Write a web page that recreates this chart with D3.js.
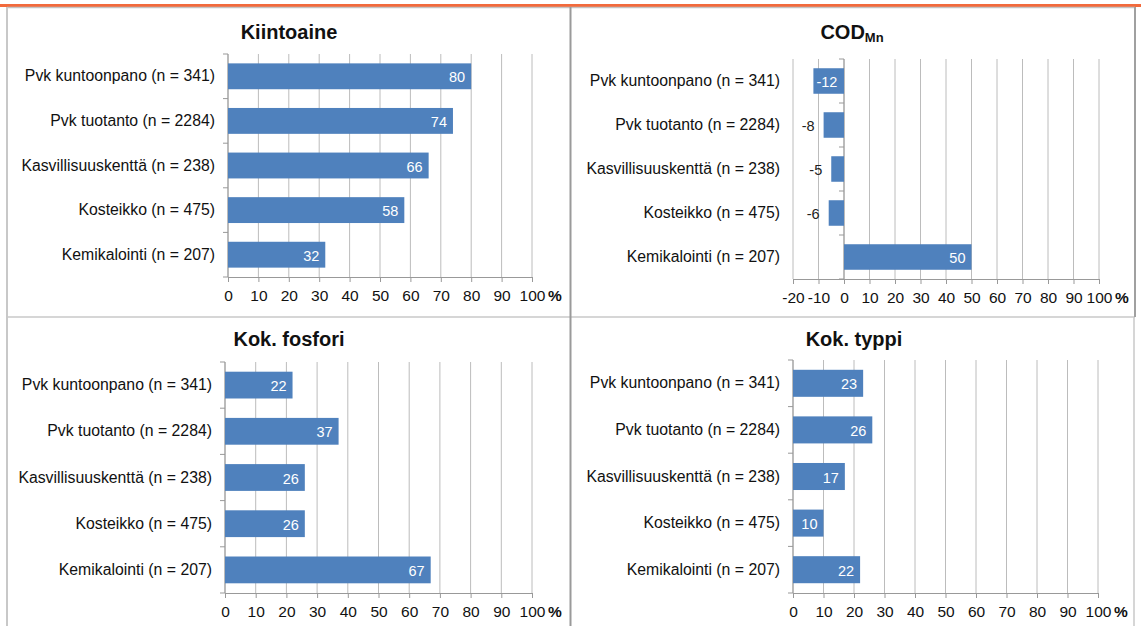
<!DOCTYPE html>
<html>
<head>
<meta charset="utf-8">
<script src="https://cdn.jsdelivr.net/npm/d3@7"></script>
<style>
  body { margin: 0; background: #fff; }
  svg { display: block; font-family: Arial, "Liberation Sans", sans-serif; }
</style>
</head>
<body>
<svg id="chart" width="1141" height="626"></svg>
<script>
// categories, shared by all four panels
var categories = [
  "Pvk kuntoonpano (n = 341)",
  "Pvk tuotanto (n = 2284)",
  "Kasvillisuuskenttä (n = 238)",
  "Kosteikko (n = 475)",
  "Kemikalointi (n = 207)"
];
var kiintoaine = [80, 74, 66, 58, 32];
var codMn = [-12, -8, -5, -6, 50];
var fosfori = [22, 37, 26, 26, 67];
var typpi = [23, 26, 17, 10, 22];

var ticksMain = [0, 10, 20, 30, 40, 50, 60, 70, 80, 90, 100];
var ticksCod = [-20, -10, 0, 10, 20, 30, 40, 50, 60, 70, 80, 90, 100];

var svg = d3.select("#chart");

// frame around the 2x2 grid
svg.append("rect").attr("x", 0).attr("y", 4).attr("width", 1141).attr("height", 3).attr("fill", "#f26a3c");
svg.append("line").attr("x1", 7).attr("x2", 1135).attr("y1", 7.5).attr("y2", 7.5).attr("stroke", "#c4c4c4").attr("stroke-width", 1.5);
svg.append("line").attr("x1", 7).attr("x2", 7).attr("y1", 7).attr("y2", 626).attr("stroke", "#c8c8c8").attr("stroke-width", 2);
svg.append("line").attr("x1", 7).attr("x2", 1135).attr("y1", 317).attr("y2", 317).attr("stroke", "#c8c8c8").attr("stroke-width", 1.5);
svg.append("line").attr("x1", 570.5).attr("x2", 570.5).attr("y1", 7).attr("y2", 626).attr("stroke", "#9a9a9a").attr("stroke-width", 2);
svg.append("line").attr("x1", 1135).attr("x2", 1135).attr("y1", 7).attr("y2", 317).attr("stroke", "#a0a0a0").attr("stroke-width", 2);
svg.append("line").attr("x1", 1134).attr("x2", 1134).attr("y1", 317).attr("y2", 626).attr("stroke", "#c8c8c8").attr("stroke-width", 1.5);

var panels = [
  {title: "Kiintoaine", values: kiintoaine, ticks: ticksMain, x0: 228, x1: 532, top: 54, bottom: 277, cx: 289, ty: 32},
  {title: "COD", sub: "Mn", values: codMn, ticks: ticksCod, x0: 793, x1: 1099, top: 59, bottom: 279, cx: 852, ty: 32},
  {title: "Kok. fosfori", values: fosfori, ticks: ticksMain, x0: 225, x1: 532, top: 362, bottom: 593, cx: 289, ty: 339},
  {title: "Kok. typpi", values: typpi, ticks: ticksMain, x0: 793, x1: 1098, top: 360, bottom: 593, cx: 854, ty: 339}
];

function drawPanel(p) {
  var g = svg.append("g");
  var x = d3.scaleLinear()
    .domain([p.ticks[0], p.ticks[p.ticks.length - 1]])
    .range([p.x0, p.x1]);
  var y = d3.scaleBand()
    .domain(categories)
    .range([p.top, p.bottom])
    .paddingInner(0.42)
    .paddingOuter(0.21);

  // title
  var t = g.append("text")
    .attr("x", p.cx).attr("y", p.ty)
    .attr("text-anchor", "middle")
    .attr("dominant-baseline", "central")
    .attr("fill", "#111")
    .style("font-size", "20px").style("font-weight", "bold")
    .text(p.title);
  if (p.sub) {
    t.append("tspan").attr("dy", 5).style("font-size", "13px").text(p.sub);
  }

  // gridlines
  g.selectAll(".grid").data(p.ticks).enter().append("line")
    .attr("x1", function(d) { return x(d); })
    .attr("x2", function(d) { return x(d); })
    .attr("y1", p.top).attr("y2", p.bottom)
    .attr("stroke", "#bcbcbc").attr("stroke-width", 1);

  // value axis (plain hyphen for negatives, as in the original)
  var ax = g.append("g")
    .attr("transform", "translate(0," + p.bottom + ")")
    .call(d3.axisBottom(x).tickValues(p.ticks).tickSize(5).tickSizeOuter(0).tickPadding(8)
      .tickFormat(function(d) { return String(d); }));
  ax.select(".domain").attr("stroke", "#999");
  ax.selectAll(".tick line").attr("stroke", "#999");
  ax.selectAll(".tick text").attr("fill", "#111").style("font-size", "15.5px").style("font-family", "Arial, 'Liberation Sans', sans-serif");
  g.append("text")
    .attr("x", p.x1 + 16).attr("y", p.bottom + 18)
    .attr("dominant-baseline", "central")
    .attr("fill", "#111")
    .style("font-size", "15.5px").style("font-weight", "bold")
    .text("%");

  // category labels
  var cy = g.append("g")
    .attr("transform", "translate(" + p.x0 + ",0)")
    .call(d3.axisLeft(y).tickSize(0).tickPadding(13));
  cy.select(".domain").remove();
  cy.selectAll(".tick text").attr("fill", "#111").style("font-size", "15.8px").style("font-family", "Arial, 'Liberation Sans', sans-serif");

  // category axis line at zero with ticks at band boundaries
  g.append("line")
    .attr("x1", x(0)).attr("x2", x(0))
    .attr("y1", p.top).attr("y2", p.bottom)
    .attr("stroke", "#999");
  g.selectAll(".ctick").data(d3.range(categories.length + 1)).enter().append("line")
    .attr("x1", x(0) - 5).attr("x2", x(0))
    .attr("y1", function(i) { return p.top + i * y.step(); })
    .attr("y2", function(i) { return p.top + i * y.step(); })
    .attr("stroke", "#999");

  // bars
  var rows = categories.map(function(c, i) { return {cat: c, v: p.values[i]}; });
  g.selectAll(".bar").data(rows).enter().append("rect")
    .attr("x", function(d) { return x(Math.min(0, d.v)); })
    .attr("width", function(d) { return Math.abs(x(d.v) - x(0)); })
    .attr("y", function(d) { return y(d.cat); })
    .attr("height", y.bandwidth())
    .attr("fill", "#4f81bd");

  // data labels
  g.selectAll(".lbl").data(rows).enter().append("text")
    .attr("y", function(d) { return y(d.cat) + y.bandwidth() / 2 + 1; })
    .attr("dominant-baseline", "central")
    .style("font-size", "14.5px")
    .each(function(d) {
      var el = d3.select(this);
      var w = Math.abs(x(d.v) - x(0));
      if (d.v >= 0) {
        el.attr("x", x(d.v) - 6).attr("text-anchor", "end").attr("fill", "#fff");
      } else if (w > 26) {
        el.attr("x", x(d.v) + 3).attr("text-anchor", "start").attr("fill", "#fff");
      } else {
        el.attr("x", x(d.v) - 9).attr("text-anchor", "end").attr("fill", "#222");
      }
    })
    .text(function(d) { return d.v; });
}

panels.forEach(drawPanel);
</script>
</body>
</html>
